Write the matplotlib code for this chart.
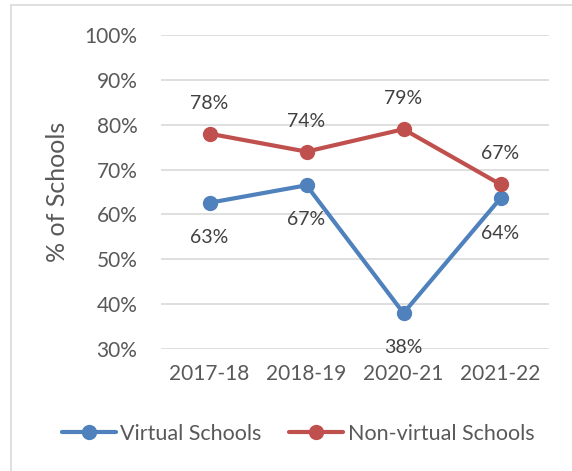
import matplotlib
matplotlib.use("Agg")
import matplotlib.pyplot as plt
from matplotlib.patches import Rectangle
from matplotlib.ticker import FuncFormatter

years = ["2017-18", "2018-19", "2020-21", "2021-22"]
virtual = [0.626, 0.665, 0.38, 0.636]
non_virtual = [0.78, 0.74, 0.79, 0.667]
virtual_labels = ["63%", "67%", "38%", "64%"]
non_virtual_labels = ["78%", "74%", "79%", "67%"]

plt.rcParams['font.family'] = ['Lato', 'DejaVu Sans']
txt = '#595959'
blue = '#4F81BD'
red = '#C0504D'

fig = plt.figure(figsize=(5.72, 4.71), dpi=100)
ax = fig.add_axes([161/572, 1-349/471, 388/572, 314/471])

# light border round the chart
fig.patches.append(Rectangle((11/572, -0.1), 1.1, 1.1 - 5/471,
                             transform=fig.transFigure, fill=False,
                             edgecolor='#D9D9D9', linewidth=1.2))

x = [i + 0.5 for i in range(len(years))]
ax.plot(x, virtual, color=blue, lw=3, marker='o', ms=10, label='Virtual Schools',
        solid_capstyle='round')
ax.plot(x, non_virtual, color=red, lw=3, marker='o', ms=10, label='Non-virtual Schools',
        solid_capstyle='round')

for xi, v, s in zip(x, virtual, virtual_labels):
    ax.annotate(s, (xi, v), xytext=(0, -25), textcoords='offset points',
                ha='center', va='center', fontsize=14, color='#404040')
for xi, v, s in zip(x, non_virtual, non_virtual_labels):
    ax.annotate(s, (xi, v), xytext=(0, 22), textcoords='offset points',
                ha='center', va='center', fontsize=14, color='#404040')

ax.set_xlim(0, 4)
ax.set_ylim(0.3, 1.0)
ax.set_yticks([0.3, 0.4, 0.5, 0.6, 0.7, 0.8, 0.9, 1.0])
ax.yaxis.set_major_formatter(FuncFormatter(lambda v, p: "{:.0f}%".format(v * 100)))
ax.set_xticks(x)
ax.set_xticklabels(years)
ax.tick_params(axis='both', length=0, labelsize=15, colors=txt)
ax.tick_params(axis='y', pad=17)
ax.tick_params(axis='x', pad=11)
ax.grid(axis='y', color='#D9D9D9', lw=1.2)
ax.set_axisbelow(True)
for sp in ax.spines.values():
    sp.set_visible(False)
ax.set_ylabel("% of Schools", fontsize=18, color=txt, labelpad=11)

fig.legend(loc='center', bbox_to_anchor=(0.521, 1-434/471), ncol=2, frameon=False,
           fontsize=15.5, labelcolor=txt, handlelength=2.5, handletextpad=0.2,
           columnspacing=1.3)

fig.savefig("out.png", dpi=100)
